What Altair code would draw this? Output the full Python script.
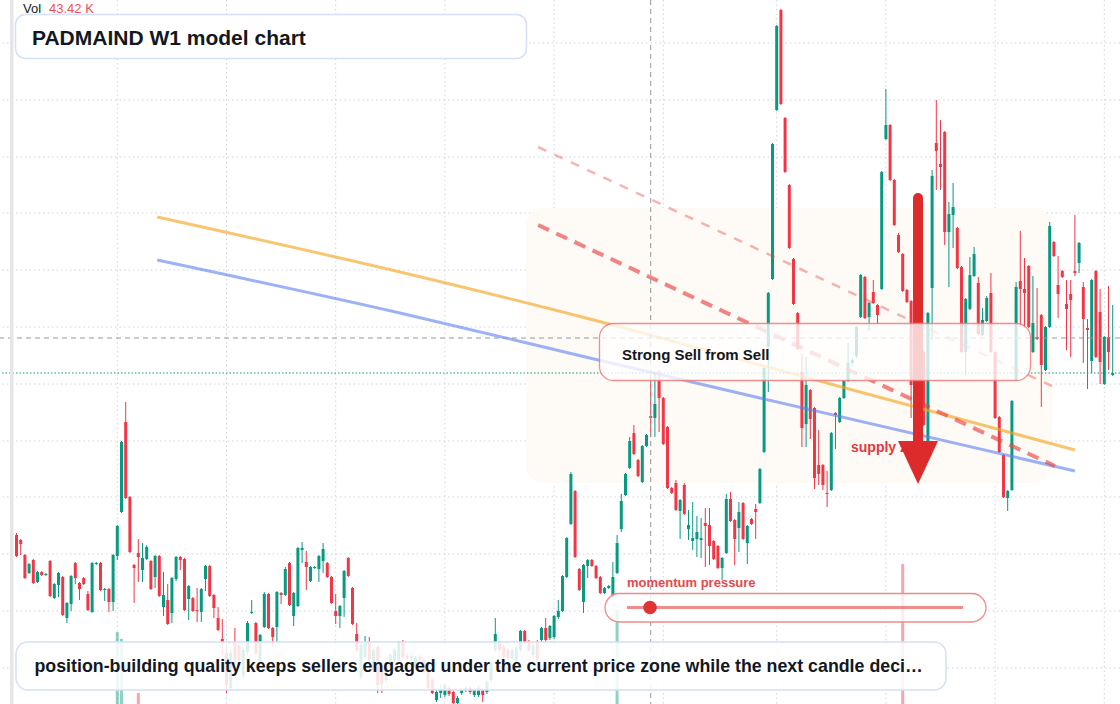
import altair as alt
import pandas as pd

# ---- weekly OHLC, price units ----
opens = [
    169,164,149,131,144,122,132,129,143,106,
    119,127,86,100,141,121,126,110,92,140,
    141,114,115,102,148,192,282,207,139,151,
    134,145,143,127,148,97,104,91,125,147,
    145,105,106,94,92,125,138,109,86,65,
    51,16,61,59,29,52,91,81,42,77,
    110,76,77,111,109,141,88,98,154,142,
    123,136,135,143,141,127,93,88,106,146,
    116,70,27,47,62,34,57,34,24,36,
    44,44,62,48,46,37,47,44,34,24,
    4,11,9,16,12,1,11,14,16,9,
    9,14,12,24,54,61,57,54,46,37,
    54,73,62,49,62,64,76,66,67,87,
    93,127,180,213,135,102,138,144,138,127,
    111,116,107,131,175,209,236,271,244,222,
    258,288,286,323,306,277,216,221,193,219,
    175,163,165,164,181,179,163,158,136,151,
    205,184,176,201,161,185,195,201,252,357,
    425,594,694,586,519,445,391,332,280,314,
    296,239,239,211,214,291,282,306,323,341,
    348,387,427,387,412,399,415,565,579,524,
    469,450,414,403,384,364,352,262,416,561,
    540,572,472,489,476,437,352,395,428,421,
    369,383,411,352,287,249,206,214,324,423,
    415,438,352,367,389,334,377,462,419,433,
    400,410,433,441,417,376,343,433,392,320,
    367,329,
]
highs = [
    171,165,150,141,145,133,133,131,144,121,
    132,128,102,129,142,122,127,113,142,142,
    142,116,116,150,179,263,302,208,140,165,
    161,159,144,149,149,132,120,127,148,148,
    146,119,107,116,116,139,139,110,97,85,
    59,54,76,62,56,83,104,82,70,112,
    111,77,113,112,137,142,112,157,162,153,
    138,138,149,161,142,128,110,99,134,147,
    117,81,61,68,67,56,59,39,42,51,
    56,63,64,51,50,48,49,46,36,26,
    14,19,21,18,14,8,16,18,18,16,
    18,16,24,43,86,63,59,56,56,58,
    74,74,64,61,64,77,86,79,89,104,
    129,167,232,214,136,140,145,145,139,128,
    117,119,142,169,210,231,267,279,245,259,
    270,329,332,334,307,278,217,224,205,221,
    194,202,188,186,196,196,164,159,147,210,
    212,185,202,202,179,186,200,236,337,412,
    561,679,695,587,520,446,392,350,347,315,
    297,274,240,233,272,292,307,324,361,346,
    378,430,428,402,424,400,533,615,580,525,
    471,451,415,404,386,366,354,392,534,604,
    584,573,502,521,477,438,406,447,457,427,
    396,408,431,353,288,250,214,304,422,473,
    446,439,428,416,390,378,482,463,448,434,
    424,424,489,462,422,385,425,434,415,368,
    418,399,
]
lows = [
    147,149,125,130,120,121,128,128,107,105,
    107,88,81,93,120,104,119,93,91,139,
    113,103,92,93,144,191,205,151,101,122,
    122,144,114,116,107,88,79,81,123,134,
    93,84,92,82,82,113,107,86,73,49,
    11,14,39,41,26,49,90,49,40,76,
    75,57,62,100,108,98,78,97,141,114,
    122,135,122,131,126,100,80,76,87,127,
    79,52,25,45,42,32,11,11,22,34,
    42,42,45,44,43,35,42,30,14,10,
    2,6,7,8,0,0,9,12,10,7,
    7,2,10,22,52,52,45,44,44,35,
    52,60,52,47,42,62,62,64,65,85,
    92,126,179,146,113,91,126,137,125,110,
    110,115,106,130,172,208,235,249,227,221,
    257,267,267,272,259,215,210,193,165,189,
    164,154,147,146,137,139,144,135,124,150,
    182,139,152,164,140,179,165,200,251,312,
    424,593,599,531,455,399,354,257,257,265,
    215,219,214,197,213,255,281,305,322,338,
    346,386,385,373,400,380,414,564,523,478,
    451,412,401,286,294,279,278,261,364,514,
    514,459,417,456,435,351,329,394,427,369,
    368,382,351,285,251,206,193,213,323,377,
    376,376,351,364,297,333,376,447,386,426,
    354,347,428,431,341,315,331,346,320,319,
    334,328,
]
closes = [
    148,160,126,140,121,132,129,130,108,120,
    131,89,101,128,126,115,120,94,141,141,
    114,115,102,149,178,262,206,152,136,147,
    146,157,115,148,108,109,80,126,147,144,
    94,118,93,93,115,138,108,96,74,62,
    19,51,44,44,54,81,92,51,69,110,
    76,67,112,109,135,99,111,156,156,137,
    137,137,148,155,127,101,88,98,133,128,
    80,54,59,61,44,54,19,20,39,49,
    54,61,47,46,48,46,45,32,16,11,
    12,14,19,10,1,6,14,16,12,14,
    16,9,22,41,70,54,47,46,54,56,
    73,62,54,59,44,76,64,78,88,93,
    128,166,230,147,114,139,144,138,126,111,
    116,118,127,161,203,230,263,250,228,258,
    269,286,300,306,260,216,211,194,204,190,
    179,166,172,166,178,158,145,136,146,205,
    183,165,192,165,178,180,192,235,336,411,
    560,678,600,532,456,400,355,276,319,285,
    226,230,219,210,271,289,306,323,341,344,
    377,429,386,401,401,389,532,579,524,479,
    452,413,402,319,299,284,279,391,528,553,
    537,472,490,497,436,352,405,429,450,370,
    384,406,352,286,252,207,213,303,417,415,
    411,377,381,365,339,377,478,448,410,427,
    395,404,431,461,385,374,424,347,342,367,
    352,331,
]

# visible volume bars (K)
vol_index = [24, 25, 29, 143, 211]
vol_k = [51.1, 46.2, 7.8, 66.8, 99.4]

# moving-average style curves (bar index, price)
curve_i = [33.5, 91.3, 136.5, 177.0, 252.0]
orange_p = [487, 432, 385, 339, 254]
blue_p = [444, 391, 346, 306, 233]

# dashed trend lines
thick_i = [124.2, 247.25]
thick_p = [479, 238]
thin_i = [124.2, 246.5]
thin_p = [557, 318]

# supply zone box and arrow
zone_i = [121.3, 246.5]
zone_p = [221, 496]
arrow_i = 214.65
arrow_p = [506, 259]
arrow_head_p = 242

grid_p = [661, 604, 547, 491, 434, 377, 320, 263, 207, 150, 93, 36]
grid_i = [24, 50, 76, 102, 128, 154, 181, 207, 233, 259]
cross_i = 151
cross_p = 366

GREEN = "#089981"
RED = "#f23645"
FONT = "Liberation Sans"
INK = "#131722"

N = len(opens)
df = pd.DataFrame({"i": list(range(N)), "o": opens, "h": highs, "l": lows, "c": closes})
df["col"] = [GREEN if c > o else RED for o, c in zip(opens, closes)]

vdf = pd.DataFrame({"i": vol_index, "vol": vol_k})
vdf["col"] = [df.loc[k, "col"] for k in vol_index]

X0 = -16.5 / 4.2
X1 = (1120 - 16.5) / 4.2
xs = alt.Scale(domain=[X0, X1], nice=False, zero=False, padding=0)
ys = alt.Scale(domain=[0, 704], nice=False, zero=False, padding=0)


def X(f):
    return alt.X(f, type="quantitative", scale=xs, axis=None)


def Y(f):
    return alt.Y(f, type="quantitative", scale=ys, axis=None)


one = pd.DataFrame({"k": [0]})
layers = []

# grid
layers.append(alt.Chart(pd.DataFrame({"p": grid_p})).mark_rule(
    color="#cfd3db", strokeDash=[1.5, 3], strokeWidth=1).encode(y=Y("p")))
layers.append(alt.Chart(pd.DataFrame({"i": grid_i})).mark_rule(
    color="#cfd3db", strokeDash=[1.5, 3], strokeWidth=1).encode(x=X("i")))

# zone
layers.append(alt.Chart(pd.DataFrame({"i0": [zone_i[0]], "i1": [zone_i[1]],
                                      "p0": [zone_p[0]], "p1": [zone_p[1]]}))
              .mark_rect(color="#fefaf6", cornerRadius=18)
              .encode(x=X("i0"), x2="i1", y=Y("p0"), y2="p1"))

# volume
layers.append(alt.Chart(vdf).mark_bar(size=3, opacity=0.45).encode(
    x=X("i"),
    y=alt.Y("vol:Q", scale=alt.Scale(domain=[0, 500], nice=False, padding=0), axis=None),
    color=alt.Color("col:N", scale=None)))

# candles
layers.append(alt.Chart(df).mark_rule(strokeWidth=1).encode(
    x=X("i"), y=Y("l"), y2="h", color=alt.Color("col:N", scale=None)))
layers.append(alt.Chart(df).mark_bar(size=3).encode(
    x=X("i"), y=Y("o"), y2="c", color=alt.Color("col:N", scale=None)))

# curves
layers.append(alt.Chart(pd.DataFrame({"i": curve_i, "p": blue_p})).mark_line(
    color="#5b7ff0", strokeWidth=3, opacity=0.6, interpolate="monotone").encode(x=X("i"), y=Y("p")))
layers.append(alt.Chart(pd.DataFrame({"i": curve_i, "p": orange_p})).mark_line(
    color="#f5a623", strokeWidth=3, opacity=0.65, interpolate="monotone").encode(x=X("i"), y=Y("p")))

# dashed trend lines
layers.append(alt.Chart(pd.DataFrame({"i": thick_i, "p": thick_p})).mark_line(
    color="#e64545", strokeWidth=4, opacity=0.65, strokeDash=[12, 8]).encode(x=X("i"), y=Y("p")))
layers.append(alt.Chart(pd.DataFrame({"i": thin_i, "p": thin_p})).mark_line(
    color="#e64545", strokeWidth=2.5, opacity=0.4, strokeDash=[9, 9]).encode(x=X("i"), y=Y("p")))

# crosshair + last price
layers.append(alt.Chart(pd.DataFrame({"i": [cross_i]})).mark_rule(
    color="#9598a1", strokeDash=[5, 4], strokeWidth=1).encode(x=X("i")))
layers.append(alt.Chart(pd.DataFrame({"p": [cross_p]})).mark_rule(
    color="#9598a1", strokeDash=[5, 4], strokeWidth=1).encode(y=Y("p")))
layers.append(alt.Chart(pd.DataFrame({"p": [closes[-1]]})).mark_rule(
    color=GREEN, strokeDash=[1.5, 2], strokeWidth=1).encode(y=Y("p")))

# supply text
layers.append(alt.Chart(one).mark_text(
    text="supply zone", font=FONT, fontSize=14, fontWeight="bold", color="#e0393e",
    align="left", baseline="alphabetic").encode(x=alt.value(851), y=alt.value(452)))

# arrow
layers.append(alt.Chart(pd.DataFrame({"i": [arrow_i], "p0": [arrow_p[0]], "p1": [arrow_p[1]]}))
              .mark_rule(color="#dd2a2a", strokeWidth=10, strokeCap="round")
              .encode(x=X("i"), y=Y("p0"), y2="p1"))
layers.append(alt.Chart(pd.DataFrame({"i": [arrow_i], "p": [arrow_head_p]}))
              .mark_point(shape="M-1,-1.05L1,-1.05L0,1.1Z", size=1600, filled=True,
                          color="#dd2a2a", opacity=1, strokeWidth=0)
              .encode(x=X("i"), y=Y("p")))

# Strong Sell box
layers.append(alt.Chart(one).mark_rect(
    cornerRadius=14, fill="white", fillOpacity=0.78, stroke="#ec7b7b",
    strokeOpacity=0.85, strokeWidth=1.3).encode(
    x=alt.value(599.5), x2=alt.value(1030.5), y=alt.value(323.5), y2=alt.value(380.5)))
layers.append(alt.Chart(one).mark_text(
    text="Strong Sell from Sell", font=FONT, fontSize=15, fontWeight="bold", color=INK,
    align="left", baseline="alphabetic").encode(x=alt.value(622), y=alt.value(359.5)))

# momentum pressure pill
layers.append(alt.Chart(one).mark_text(
    text="momentum pressure", font=FONT, fontSize=13, fontWeight="bold", color="#e5484d",
    align="left", baseline="alphabetic").encode(x=alt.value(627), y=alt.value(587)))
layers.append(alt.Chart(one).mark_rect(
    cornerRadius=14.5, fill="white", fillOpacity=0.8, stroke="#ef8a8a",
    strokeWidth=1.3).encode(
    x=alt.value(605), x2=alt.value(986), y=alt.value(593.5), y2=alt.value(622)))
layers.append(alt.Chart(one).mark_rule(color="#eb6f6f", strokeWidth=3, opacity=0.8).encode(
    x=alt.value(627), x2=alt.value(963), y=alt.value(607.5)))
layers.append(alt.Chart(one).mark_point(filled=True, size=185, color="#e03535", opacity=1).encode(
    x=alt.value(650), y=alt.value(607.5)))

# title box
layers.append(alt.Chart(one).mark_rect(
    cornerRadius=10, fill="white", fillOpacity=0.92, stroke="#d3e0f5", strokeWidth=1.5).encode(
    x=alt.value(15.5), x2=alt.value(526.5), y=alt.value(14.5), y2=alt.value(58.5)))
layers.append(alt.Chart(one).mark_text(
    text="PADMAIND W1 model chart", font=FONT, fontSize=21, fontWeight="bold", color=INK,
    align="left", baseline="alphabetic").encode(x=alt.value(32), y=alt.value(44.5)))

# caption box
layers.append(alt.Chart(one).mark_rect(
    cornerRadius=12, fill="white", fillOpacity=0.86, stroke="#d3e0f5", strokeWidth=1.5).encode(
    x=alt.value(16), x2=alt.value(946), y=alt.value(642), y2=alt.value(690)))
layers.append(alt.Chart(one).mark_text(
    text="position-building quality keeps sellers engaged under the current price zone while the next candle deci\u2026",
    font=FONT, fontSize=17.8, fontWeight="bold", color=INK,
    align="left", baseline="alphabetic").encode(x=alt.value(34.5), y=alt.value(672)))

# volume legend text
layers.append(alt.Chart(one).mark_text(
    text="Vol", font=FONT, fontSize=13, color=INK, align="left", baseline="alphabetic").encode(
    x=alt.value(23), y=alt.value(13)))
layers.append(alt.Chart(one).mark_text(
    text="43.42 K", font=FONT, fontSize=13, color="#f0505a", align="left", baseline="alphabetic").encode(
    x=alt.value(49), y=alt.value(13)))

# left edge strip
layers.append(alt.Chart(one).mark_rect(color="#e6e6e9").encode(
    x=alt.value(10), x2=alt.value(13.5), y=alt.value(0), y2=alt.value(704)))

chart = alt.layer(*layers).resolve_scale(y="independent").properties(
    width=1120, height=704, padding=0,
    autosize=alt.AutoSizeParams(type="none"),
    background="white",
).configure_view(stroke=None)

chart.save("out.html", embed_options={"renderer": "svg", "actions": False})
